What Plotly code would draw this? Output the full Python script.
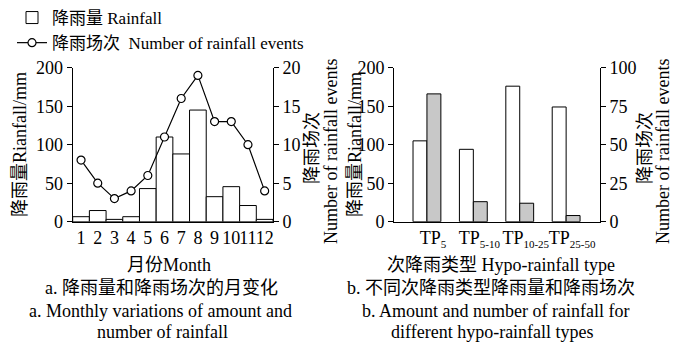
import plotly.graph_objects as go

W, H = 676, 342
FONT = "Liberation Serif, Times New Roman, Noto Sans CJK SC, serif"

# ---- data ----
months = list(range(1, 13))
month_labels = [str(m) for m in months]
monthly_rainfall = [6.5, 14.5, 3, 6.5, 43, 110, 88, 145, 32.5, 45.5, 21, 3]
monthly_events = [8, 5, 3, 4, 6, 11, 16, 19, 13, 13, 10, 4]

types_idx = [0, 1, 2, 3]
type_subs = ["5", "5-10", "10-25", "25-50"]
type_rainfall = [105, 94, 176, 149]
type_events = [83, 13, 12, 4]

type_labels = ["TP<sub><span style='font-size:11px'>%s</span></sub>" % s for s in type_subs]

def px(x):
    return x / W

def py(y):
    return 1 - y / H

fig = go.Figure()

fig.add_trace(go.Bar(
    x=months, y=monthly_rainfall, width=1, name="降雨量 Rainfall",
    marker=dict(color="white", line=dict(color="black", width=1)),
    xaxis="x", yaxis="y", showlegend=True))
fig.add_trace(go.Scatter(
    x=months, y=monthly_events, mode="lines+markers",
    name="降雨场次  Number of rainfall events",
    line=dict(color="black", width=1.2),
    marker=dict(symbol="circle", size=8, color="white", line=dict(color="black", width=1.2)),
    xaxis="x", yaxis="y2", showlegend=True))

fig.add_trace(go.Bar(
    x=types_idx, y=type_rainfall, width=0.3, offset=-0.3,
    marker=dict(color="white", line=dict(color="black", width=1)),
    xaxis="x3", yaxis="y3", showlegend=False))
fig.add_trace(go.Bar(
    x=types_idx, y=type_events, width=0.3, offset=0,
    marker=dict(color="#c8c8c8", line=dict(color="black", width=1)),
    xaxis="x3", yaxis="y4", showlegend=False))

ydom = [py(221.7), py(67.7)]
axis_common = dict(showline=True, linecolor="black", linewidth=1, showgrid=False,
                   zeroline=False, tickangle=0,
                   tickfont=dict(family=FONT, size=18, color="black"))

fig.update_layout(
    width=W, height=H,
    margin=dict(l=0, r=0, t=0, b=0, autoexpand=False),
    paper_bgcolor="white", plot_bgcolor="white",
    font=dict(family=FONT, size=18, color="black"),
    barmode="overlay",
    xaxis=dict(domain=[px(72.7), px(273)], range=[0.5, 12.5], tickvals=months,
               ticktext=month_labels, ticks="", anchor="y", **axis_common),
    yaxis=dict(domain=ydom, range=[0, 200], tickvals=[0, 50, 100, 150, 200],
               ticks="outside", ticklen=5, tickcolor="black", anchor="x", **axis_common),
    yaxis2=dict(range=[0, 20], tickvals=[0, 5, 10, 15, 20], overlaying="y", side="right",
                ticks="outside", ticklen=5, tickcolor="black", anchor="x", **axis_common),
    xaxis3=dict(domain=[px(394), px(600)], range=[-0.71, 3.73], tickvals=types_idx,
                ticktext=type_labels, ticks="", anchor="y3", ticklabelshift=6, **axis_common),
    yaxis3=dict(domain=ydom, range=[0, 200], tickvals=[0, 50, 100, 150, 200],
                ticks="outside", ticklen=5, tickcolor="black", anchor="x3", **axis_common),
    yaxis4=dict(range=[0, 100], tickvals=[0, 25, 50, 75, 100], overlaying="y3", side="right",
                ticks="outside", ticklen=5, tickcolor="black", anchor="x3", **axis_common),
    legend=dict(x=px(12), y=1.0, xanchor="left", yanchor="top", bgcolor="rgba(0,0,0,0)",
                font=dict(family=FONT, size=17), tracegroupgap=0, itemwidth=30),
)

def ann(text, x, y, angle=0):
    fig.add_annotation(text=text, x=px(x), y=py(y), xref="paper", yref="paper",
                       showarrow=False, textangle=angle, xanchor="center", yanchor="middle",
                       font=dict(family=FONT, size=18, color="black"))

ann("降雨量Rianfall/mm", 20, 145, -90)
ann("降雨场次", 312, 148, -90)
ann("Number of rainfall events", 331, 152, -90)
ann("降雨量Rianfall/mm", 355, 145, -90)
ann("降雨场次", 645, 148, -90)
ann("Number of rainfall events", 663, 152, -90)

ann("月份Month", 169, 265)
ann("a. 降雨量和降雨场次的月变化", 161, 288)
ann("a. Monthly variations of amount and", 160, 311)
ann("number of rainfall", 162, 332)
ann("次降雨类型 Hypo-rainfall type", 501, 265)
ann("b. 不同次降雨类型降雨量和降雨场次", 491, 288)
ann("b. Amount and number of rainfall for", 495, 311)
ann("different hypo-rainfall types", 492, 332)

fig.write_html("out.html", config={"displayModeBar": False},
               post_script="document.body.style.margin='0px';")
